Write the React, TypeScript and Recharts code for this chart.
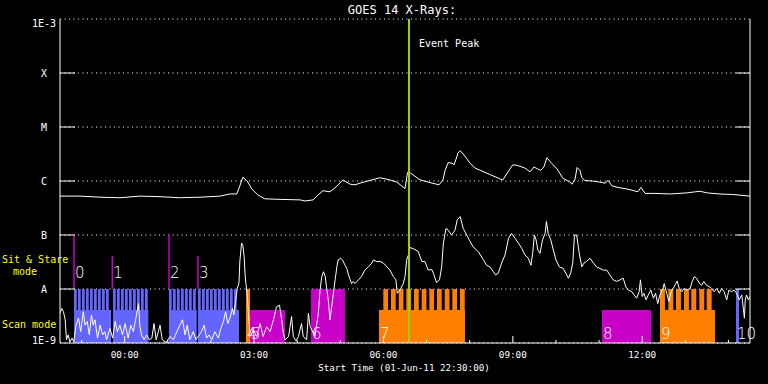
import React from 'react';
import {
  ComposedChart,
  Line,
  XAxis,
  YAxis,
  CartesianGrid,
  ReferenceArea,
  ReferenceLine,
  ReferenceDot,
} from 'recharts';

const FONT = '"DejaVu Sans Mono", monospace';
const LABEL_FONT = '"DejaVu Sans", sans-serif';
const WHITE = '#ffffff';
const YELLOW = '#ffff00';
const PEAK = '#a0d200';
const KIND_COLOR: Record<string, string> = { B: '#6464ff', O: '#ff8000', M: '#c800c8' };

// time: hours after start (01-Jun-11 22:30:00); flux: log10(W/m^2)
const longT = [0, 0.46, 0.93, 1.39, 1.86, 2.32, 2.78, 3.25, 3.71, 3.94, 4.1, 4.17, 4.24, 4.34, 4.45, 4.59, 4.75, 5.1, 5.57, 5.68, 5.87, 5.98, 6.1, 6.26, 6.4, 6.56, 6.73, 6.84, 7.0, 7.19, 7.42, 7.65, 7.81, 8.0, 8.06, 8.12, 8.35, 8.58, 8.79, 8.88, 8.93, 9.0, 9.09, 9.14, 9.23, 9.28, 9.35, 9.51, 9.62, 9.74, 9.97, 10.2, 10.27, 10.37, 10.5, 10.6, 10.78, 10.9, 10.99, 11.08, 11.15, 11.22, 11.29, 11.41, 11.53, 11.66, 11.83, 11.87, 11.94, 11.99, 12.06, 12.1, 12.17, 12.34, 12.52, 12.64, 12.71, 12.8, 12.94, 13.1, 13.26, 13.4, 13.47, 13.57, 13.8, 14.15, 14.54, 14.73, 14.84, 15.0, 15.3, 15.61, 16.0];
const longV = [-6.28, -6.28, -6.3, -6.31, -6.28, -6.29, -6.31, -6.3, -6.28, -6.24, -6.24, -6.09, -5.93, -6.0, -6.15, -6.26, -6.33, -6.34, -6.35, -6.37, -6.35, -6.26, -6.18, -6.2, -6.11, -5.98, -6.06, -6.07, -6.03, -5.99, -5.94, -5.98, -6.02, -6.14, -5.84, -5.85, -5.98, -6.03, -6.07, -5.98, -5.8, -5.66, -5.67, -5.7, -5.48, -5.44, -5.5, -5.67, -5.76, -5.8, -5.88, -5.96, -5.98, -5.85, -5.7, -5.71, -5.76, -5.83, -5.74, -5.78, -5.8, -5.74, -5.57, -5.68, -5.78, -5.95, -6.02, -6.06, -5.98, -5.75, -5.81, -5.94, -5.99, -6.0, -6.02, -6.04, -5.99, -6.09, -6.12, -6.14, -6.17, -6.2, -6.12, -6.23, -6.23, -6.24, -6.22, -6.2, -6.19, -6.22, -6.24, -6.25, -6.28];

const shortT = [0, 0.04, 0.08, 0.12, 0.15, 0.19, 0.23, 0.28, 0.32, 0.37, 0.43, 0.48, 0.54, 0.58, 0.63, 0.68, 0.73, 0.77, 0.81, 0.87, 0.93, 0.99, 1.04, 1.08, 1.16, 1.22, 1.28, 1.33, 1.39, 1.45, 1.51, 1.58, 1.64, 1.7, 1.76, 1.82, 1.85, 1.89, 1.95, 2.01, 2.07, 2.13, 2.18, 2.23, 2.28, 2.32, 2.37, 2.46, 2.55, 2.63, 2.71, 2.78, 2.84, 2.9, 2.95, 3.01, 3.09, 3.15, 3.23, 3.28, 3.34, 3.4, 3.46, 3.52, 3.59, 3.67, 3.73, 3.79, 3.84, 3.89, 3.94, 4.0, 4.03, 4.07, 4.11, 4.15, 4.17, 4.21, 4.24,
  4.27, 4.29, 4.31, 4.34, 4.37, 4.41, 4.48, 4.56, 4.64, 4.71, 4.79, 4.87, 4.95, 5.02, 5.09, 5.14, 5.18, 5.22, 5.3, 5.37, 5.41, 5.47, 5.53, 5.6, 5.64, 5.72, 5.76, 5.8, 5.84, 5.91, 5.99, 6.03, 6.07, 6.11, 6.15, 6.18, 6.22, 6.26, 6.3, 6.38, 6.42, 6.45, 6.51, 6.55, 6.61, 6.65, 6.69, 6.73, 6.76, 6.8, 6.84, 6.92, 6.99, 7.07, 7.15, 7.23, 7.27, 7.34, 7.42, 7.5, 7.58, 7.65, 7.73, 7.79, 7.82, 7.88, 7.96, 8.0, 8.04, 8.08,
  8.12, 8.23, 8.31, 8.39, 8.46, 8.54, 8.62, 8.66, 8.73, 8.8, 8.85, 8.89, 8.95, 9.0, 9.08, 9.16, 9.21, 9.28, 9.35, 9.43, 9.51, 9.58, 9.7, 9.82, 9.89, 9.97, 10.05, 10.1, 10.16, 10.24, 10.32, 10.4, 10.47, 10.55, 10.63, 10.71, 10.78, 10.86, 10.92, 10.96, 11.0, 11.04, 11.08, 11.13, 11.19, 11.25, 11.28, 11.32, 11.38, 11.44, 11.5, 11.58, 11.67, 11.75, 11.79, 11.84, 11.89, 11.93, 11.98, 12.02,
  12.04, 12.1, 12.15, 12.21, 12.29, 12.37, 12.44, 12.52, 12.6, 12.68, 12.75, 12.83, 12.91, 12.99, 13.06, 13.12, 13.18, 13.26, 13.31, 13.37, 13.43, 13.46, 13.5, 13.54, 13.59, 13.64, 13.7, 13.76, 13.81, 13.86, 13.91, 13.97, 14.01, 14.07, 14.12, 14.17, 14.22, 14.28, 14.31, 14.36, 14.42, 14.47, 14.53, 14.61, 14.66, 14.71, 14.76, 14.83, 14.88, 14.93, 14.99, 15.06, 15.11, 15.17, 15.23, 15.29, 15.34, 15.4, 15.46, 15.51, 15.57, 15.63, 15.69, 15.75, 15.81, 15.85, 15.87, 15.89, 15.92, 15.96, 16.0];
const shortV = [-8.45, -8.36, -8.42, -8.57, -8.94, -8.85, -8.98, -8.91, -8.98, -8.67, -8.54, -8.79, -8.42, -8.67, -8.6, -8.85, -8.48, -8.67, -8.57, -8.91, -8.67, -8.85, -8.79, -8.94, -8.73, -8.91, -8.6, -8.79, -8.67, -8.85, -8.64, -8.91, -8.67, -8.79, -8.54, -8.27, -8.67, -8.85, -8.94, -8.85, -8.94, -8.91, -8.64, -8.94, -8.79, -8.67, -8.94, -8.99, -8.88, -8.94, -8.79, -8.67, -8.57, -8.85, -8.67, -8.94, -8.79, -8.94, -8.85, -8.79, -8.67, -8.91, -8.85, -8.94, -8.79, -8.91, -8.73, -8.6, -8.42, -8.64, -8.54, -8.36, -8.48, -8.23, -7.99, -7.89, -7.49, -7.15, -7.19,
  -7.4, -7.71, -7.9, -8.08, -8.45, -8.88, -8.76, -8.88, -8.64, -8.88, -8.7, -8.79, -8.57, -8.33, -8.3, -8.57, -8.82, -8.94, -8.88, -8.51, -8.88, -8.96, -8.88, -8.64, -8.88, -8.94, -8.45, -8.7, -8.76, -8.88, -8.45, -8.02, -7.77, -7.68, -7.77, -7.96, -8.2, -8.57, -8.33, -7.83, -7.59, -7.46, -7.43, -7.46, -7.56, -7.62, -7.74, -7.83, -7.9, -7.86, -7.9, -7.83, -7.77, -7.65, -7.59, -7.52, -7.46, -7.49, -7.49, -7.52, -7.59, -7.65, -7.77, -7.83, -8.08, -8.02, -7.9, -7.77, -7.46, -7.37,
  -7.23, -7.27, -7.31, -7.49, -7.49, -7.65, -7.64, -7.71, -7.88, -7.83, -7.59, -7.15, -6.88, -6.91, -7.0, -6.91, -6.72, -6.66, -6.88, -7.0, -7.12, -7.22, -7.31, -7.46, -7.56, -7.59, -7.68, -7.74, -7.71, -7.52, -7.37, -7.06, -6.97, -7.06, -7.15, -7.25, -7.37, -7.43, -7.56, -7.34, -7.0, -7.09, -7.28, -7.34, -7.09, -6.97, -6.75, -6.97, -7.09, -7.28, -7.46, -7.59, -7.62, -7.74, -7.8, -7.71, -7.52, -7.0, -7.0, -7.22,
  -7.34, -7.59, -7.52, -7.49, -7.43, -7.52, -7.59, -7.62, -7.65, -7.65, -7.74, -7.83, -7.86, -7.83, -7.8, -7.96, -8.02, -8.05, -8.11, -8.17, -8.05, -7.83, -8.14, -8.08, -8.2, -8.11, -8.02, -8.17, -8.08, -8.27, -8.11, -8.02, -7.9, -8.08, -8.23, -8.05, -7.99, -7.9, -7.85, -7.99, -8.05, -7.99, -8.02, -7.99, -7.86, -7.77, -7.8, -7.9, -7.93, -7.86, -7.93, -7.96, -7.99, -8.05, -7.99, -8.08, -7.99, -8.05, -8.2, -8.02, -8.05, -8.02, -8.08, -8.2, -8.11, -8.39, -8.54, -8.2, -8.11, -8.2, -8.14];

// axes
const hourTicks = [0.5, 1.5, 2.5, 3.5, 4.5, 5.5, 6.5, 7.5, 8.5, 9.5, 10.5, 11.5, 12.5, 13.5, 14.5, 15.5];
const majorHourTicks = [1.5, 4.5, 7.5, 10.5, 13.5];
const START_CLOCK = 22.5;
const yTicks = [-9, -8, -7, -6, -5, -4, -3];
const yTickLabels = ['1E-9', 'A', 'B', 'C', 'M', 'X', '1E-3'];
const classTicks = [-8, -7, -6, -5, -4];

// observing events
const eventLabels = ['0', '1', '2', '3', '4', '5', '6', '7', '8', '9', '10'];
const eventKind = ['B', 'B', 'B', 'B', 'O', 'M', 'M', 'O', 'M', 'O', 'B'];
const eventStart = [0.325, 1.229, 2.528, 3.2, 4.313, 4.406, 5.82, 7.397, 12.568, 13.913, 15.675];
const eventEnd = [1.183, 2.048, 3.17, 4.151, 4.406, 5.217, 6.609, 9.391, 13.704, 15.188, 15.745];
const eventTop = [-8.39, -8.39, -8.39, -8.39, -8.0, -8.39, -8.0, -8.39, -8.39, -8.39, -8.0];
const eventLabelLevel = [-7.8, -7.8, -7.8, -7.8, -8.93, -8.93, -8.93, -8.93, -8.93, -8.93, -8.93];
const eventLabelT = [0.325, 1.213, 2.528, 3.2, 4.313, 4.406, 5.82, 7.397, 12.568, 13.913, 15.675];

const markerT = [0.325, 1.213, 2.528, 3.2];
const markerTop = [-7.0, -7.39, -7.0, -7.39];

const sitStareTop = -8.0;
const scanTop = -8.39;
const blueTeeth = [0.325, 0.417, 0.51, 0.603, 0.696, 0.788, 0.881, 0.974, 1.067, 1.229, 1.322, 1.414, 1.507, 1.6, 1.693, 1.786, 1.878, 1.971, 2.528, 2.62, 2.713, 2.806, 2.899, 2.991, 3.084, 3.2, 3.293, 3.386, 3.478, 3.571, 3.664, 3.757, 3.849, 3.942, 4.035];
const blueToothLen = 0.064;
const orangeTeeth7 = [7.497, 7.675, 7.854, 8.03, 8.209, 8.387, 8.564, 8.742, 8.921, 9.097, 9.275];
const orangeTooth7Len = 0.11;
const orangeTeeth9 = [13.913, 14.106, 14.284, 14.469, 14.639, 14.824, 14.996];
const orangeTooth9Len = 0.115;

const peakT = 8.093;

const clock = (t: number) => {
  const v = (START_CLOCK + t) % 24;
  const h = Math.floor(v);
  const m = Math.round((v - h) * 60);
  return `${String(h).padStart(2, '0')}:${String(m).padStart(2, '0')}`;
};

const BottomTick = (p: any) => {
  const major = majorHourTicks.includes(p.payload.value);
  const len = major ? 7 : 3;
  return (
    <g>
      <line x1={p.x} x2={p.x} y1={p.y} y2={p.y - len} stroke={WHITE} strokeWidth={1} />
      {major && (
        <text x={p.x} y={p.y + 15} textAnchor="middle" fill={WHITE} fontFamily={FONT} fontSize={9.3}>
          {clock(p.payload.value)}
        </text>
      )}
    </g>
  );
};

const TopTick = (p: any) => {
  const major = majorHourTicks.includes(p.payload.value);
  const len = major ? 7 : 3;
  return <line x1={p.x} x2={p.x} y1={p.y} y2={p.y + len} stroke={WHITE} strokeWidth={1} />;
};

const LeftTick = (p: any) => {
  const i = yTicks.indexOf(p.payload.value);
  const dy = i === 0 ? -3 : i === yTicks.length - 1 ? 4 : 0;
  return (
    <g>
      {classTicks.includes(p.payload.value) && (
        <line x1={p.x} x2={p.x + 15} y1={p.y} y2={p.y} stroke={WHITE} strokeWidth={1} />
      )}
      <text x={44} y={p.y + dy + 3.6} textAnchor="middle" fill={WHITE} fontFamily={FONT} fontSize={10}>
        {yTickLabels[i]}
      </text>
    </g>
  );
};

const RightTick = (p: any) =>
  classTicks.includes(p.payload.value) ? (
    <line x1={p.x - 14} x2={p.x} y1={p.y} y2={p.y} stroke={WHITE} strokeWidth={1} />
  ) : (
    <g />
  );

export default function App() {
  const data = [
    ...longT.map((t, i) => ({ t, long: longV[i] })),
    ...shortT.map((t, i) => ({ t, short: shortV[i] })),
  ].sort((a, b) => a.t - b.t);

  return (
    <div style={{ position: 'absolute', left: 0, top: 0, width: 768, height: 384, background: '#000', overflow: 'hidden' }}>
      <ComposedChart width={768} height={384} data={data} margin={{ top: 19, right: 0, bottom: 0, left: 0 }}>
        <CartesianGrid vertical={false} stroke={WHITE} strokeDasharray="1 3.5" />
        <XAxis
          dataKey="t"
          type="number"
          domain={[0, 16]}
          ticks={hourTicks}
          interval={0}
          height={41}
          tickSize={0}
          tickMargin={0}
          tickLine={false}
          axisLine={{ stroke: WHITE }}
          tick={(p: any) => <BottomTick {...p} />}
          allowDataOverflow
        />
        <XAxis
          xAxisId="top"
          orientation="top"
          dataKey="t"
          type="number"
          domain={[0, 16]}
          ticks={hourTicks}
          interval={0}
          height={0}
          tickSize={0}
          tickMargin={0}
          tickLine={false}
          axisLine={{ stroke: WHITE }}
          tick={(p: any) => <TopTick {...p} />}
          allowDataOverflow
        />
        <YAxis
          type="number"
          domain={[-9, -3]}
          ticks={yTicks}
          interval={0}
          width={60}
          tickSize={0}
          tickMargin={0}
          tickLine={false}
          axisLine={{ stroke: WHITE }}
          tick={(p: any) => <LeftTick {...p} />}
          allowDataOverflow
        />
        <YAxis
          yAxisId="r"
          orientation="right"
          type="number"
          domain={[-9, -3]}
          ticks={yTicks}
          interval={0}
          width={18}
          tickSize={0}
          tickMargin={0}
          tickLine={false}
          axisLine={{ stroke: WHITE }}
          tick={(p: any) => <RightTick {...p} />}
          allowDataOverflow
        />

        {eventLabels.map((lab, i) => (
          <ReferenceArea
            key={`ev${lab}`}
            x1={eventStart[i]}
            x2={eventEnd[i]}
            y1={-9}
            y2={eventTop[i]}
            fill={KIND_COLOR[eventKind[i]]}
            fillOpacity={1}
            stroke="none"
          />
        ))}
        {blueTeeth.map((t, i) => (
          <ReferenceArea key={`bt${i}`} x1={t} x2={t + blueToothLen} y1={scanTop} y2={sitStareTop} fill={KIND_COLOR.B} fillOpacity={1} stroke="none" />
        ))}
        {orangeTeeth7.map((t, i) => (
          <ReferenceArea key={`o7${i}`} x1={t} x2={t + orangeTooth7Len} y1={scanTop} y2={sitStareTop} fill={KIND_COLOR.O} fillOpacity={1} stroke="none" />
        ))}
        {orangeTeeth9.map((t, i) => (
          <ReferenceArea key={`o9${i}`} x1={t} x2={t + orangeTooth9Len} y1={scanTop} y2={sitStareTop} fill={KIND_COLOR.O} fillOpacity={1} stroke="none" />
        ))}
        {markerT.map((t, i) => (
          <ReferenceLine
            key={`mk${i}`}
            segment={[{ x: t, y: sitStareTop }, { x: t, y: markerTop[i] }]}
            stroke={KIND_COLOR.M}
            strokeWidth={1.5}
          />
        ))}

        <Line dataKey="long" type="linear" stroke={WHITE} strokeWidth={1} dot={false} connectNulls isAnimationActive={false} />
        <Line dataKey="short" type="linear" stroke={WHITE} strokeWidth={1} dot={false} connectNulls isAnimationActive={false} />

        <ReferenceLine x={peakT} stroke={PEAK} strokeWidth={2} />

        {eventLabels.map((lab, i) => (
          <ReferenceDot
            key={`lb${lab}`}
            x={eventLabelT[i]}
            y={eventLabelLevel[i]}
            r={0}
            shape={(p: any) => (
              <text x={p.cx + 1} y={p.cy} fill={WHITE} fontFamily={LABEL_FONT} fontWeight={200} fontSize={15}>
                {lab}
              </text>
            )}
          />
        ))}
        <ReferenceDot
          x={peakT}
          y={-3}
          r={0}
          shape={(p: any) => (
            <text x={p.cx + 10} y={p.cy + 28} fill={WHITE} fontFamily={FONT} fontSize={10}>
              Event Peak
            </text>
          )}
        />
      </ComposedChart>
      <svg width={768} height={384} style={{ position: 'absolute', left: 0, top: 0, pointerEvents: 'none' }}>
        <text x={402} y={14} textAnchor="middle" fill={WHITE} fontFamily={FONT} fontSize={12}>
          GOES 14 X-Rays:
        </text>
        <text x={404} y={371} textAnchor="middle" fill={WHITE} fontFamily={FONT} fontSize={9.2}>
          Start Time (01-Jun-11 22:30:00)
        </text>
        <text x={2} y={263} fill={YELLOW} fontFamily={FONT} fontSize={10}>
          Sit &amp; Stare
        </text>
        <text x={13} y={275} fill={YELLOW} fontFamily={FONT} fontSize={10}>
          mode
        </text>
        <text x={2} y={328} fill={YELLOW} fontFamily={FONT} fontSize={10}>
          Scan mode
        </text>
      </svg>
    </div>
  );
}
